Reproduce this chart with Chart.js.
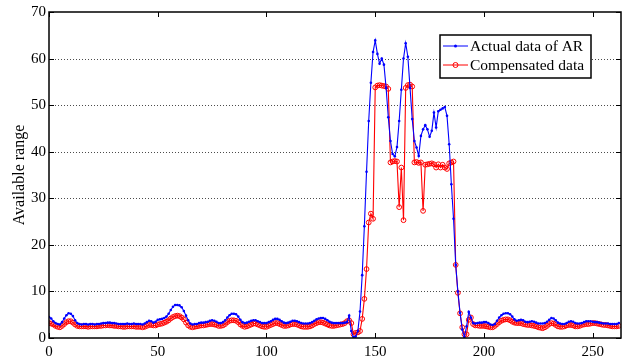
<!DOCTYPE html>
<html>
<head>
<meta charset="utf-8">
<script src="https://cdn.jsdelivr.net/npm/chart.js@4/dist/chart.umd.min.js"></script>
<style>
  html, body { margin: 0; padding: 0; background: #fff; }
  #wrap { width: 626px; height: 362px; }
</style>
</head>
<body>
<div id="wrap"><canvas id="chart"></canvas></div>
<script>
// one sample per x step, x = 0 .. 262
const actualAR = [
  4.5, 4.2, 3.6, 3.2, 3.0, 2.9, 3.4, 4.2, 4.9, 5.3,
  5.2, 4.7, 3.8, 3.2, 3.0, 2.9, 3.0, 3.0, 2.9, 3.0,
  3.0, 2.9, 3.0, 3.0, 3.1, 3.2, 3.2, 3.3, 3.3, 3.2,
  3.2, 3.1, 3.0, 3.0, 3.0, 3.0, 3.1, 3.0, 3.0, 3.1,
  3.0, 3.0, 3.0, 2.9, 3.1, 3.4, 3.7, 3.6, 3.3, 3.5,
  3.9, 4.0, 4.1, 4.3, 4.6, 5.2, 6.0, 6.7, 7.1, 7.1,
  7.0, 6.6, 5.8, 4.8, 3.8, 3.1, 2.9, 3.0, 3.0, 3.2,
  3.3, 3.3, 3.4, 3.5, 3.7, 3.8, 3.7, 3.5, 3.2, 3.2,
  3.4, 3.8, 4.4, 4.9, 5.2, 5.2, 5.1, 4.6, 3.9, 3.4,
  3.2, 3.3, 3.5, 3.7, 3.8, 3.8, 3.6, 3.4, 3.2, 3.2,
  3.2, 3.4, 3.6, 3.9, 4.1, 4.1, 3.9, 3.6, 3.3, 3.2,
  3.3, 3.5, 3.7, 3.7, 3.6, 3.4, 3.2, 3.1, 3.1, 3.1,
  3.2, 3.4, 3.7, 4.0, 4.2, 4.3, 4.3, 4.1, 3.8, 3.5,
  3.3, 3.2, 3.2, 3.2, 3.2, 3.2, 3.3, 3.4, 4.8, 1.5,
  0.2, 0.3, 1.5, 5.7, 13.5, 24.0, 35.7, 46.6, 54.8, 61.4,
  63.9, 61.0, 58.9, 60.0, 58.7, 53.7, 47.4, 42.3, 39.5, 39.0,
  41.0, 46.6, 53.3, 60.0, 63.3, 60.4, 53.7, 47.0, 42.3, 40.9,
  39.1, 43.4, 44.8, 45.7, 44.8, 43.2, 44.5, 48.4, 45.2, 48.7,
  49.0, 49.3, 49.6, 47.7, 41.6, 33.0, 25.6, 15.7, 10.0, 5.4,
  1.8, 0.2, 2.5, 5.6, 4.4, 3.2, 3.1, 3.2, 3.3, 3.3,
  3.4, 3.4, 3.2, 2.9, 2.8, 3.0, 3.7, 4.4, 4.9, 5.2,
  5.3, 5.3, 5.1, 4.6, 4.0, 3.7, 3.8, 3.9, 3.8, 3.5,
  3.4, 3.5, 3.6, 3.5, 3.3, 3.1, 3.1, 3.1, 3.2, 3.5,
  3.9, 4.3, 4.2, 3.8, 3.3, 3.1, 3.0, 3.0, 3.2, 3.5,
  3.6, 3.5, 3.2, 3.1, 3.1, 3.2, 3.4, 3.6, 3.6, 3.6,
  3.5, 3.4, 3.4, 3.3, 3.2, 3.1, 3.1, 3.1, 3.0, 3.0,
  3.0, 3.0, 3.2
];

const compensated = [
  3.2, 3.1, 2.9, 2.6, 2.4, 2.3, 2.6, 3.0, 3.4, 3.6,
  3.6, 3.3, 2.9, 2.6, 2.5, 2.5, 2.5, 2.5, 2.4, 2.5,
  2.5, 2.5, 2.5, 2.6, 2.6, 2.7, 2.7, 2.8, 2.7, 2.7,
  2.6, 2.6, 2.5, 2.5, 2.4, 2.4, 2.5, 2.5, 2.5, 2.5,
  2.4, 2.4, 2.4, 2.3, 2.4, 2.6, 2.8, 2.8, 2.7, 2.7,
  2.9, 3.0, 3.1, 3.3, 3.5, 3.8, 4.2, 4.5, 4.7, 4.8,
  4.7, 4.4, 4.0, 3.3, 2.7, 2.4, 2.3, 2.4, 2.5, 2.6,
  2.7, 2.7, 2.8, 2.9, 3.0, 3.0, 2.9, 2.8, 2.6, 2.6,
  2.7, 3.0, 3.4, 3.7, 3.8, 3.8, 3.7, 3.4, 2.9, 2.6,
  2.4, 2.5, 2.7, 2.9, 3.1, 3.1, 2.9, 2.7, 2.5, 2.4,
  2.4, 2.6, 2.8, 3.0, 3.2, 3.2, 3.0, 2.8, 2.6, 2.6,
  2.7, 2.9, 3.0, 3.0, 2.9, 2.7, 2.5, 2.4, 2.4, 2.4,
  2.5, 2.7, 3.0, 3.2, 3.4, 3.4, 3.3, 3.1, 2.9, 2.7,
  2.6, 2.6, 2.7, 2.8, 2.9, 3.0, 3.2, 3.6, 3.8, 3.2,
  0.8, 1.1, 1.2, 1.5, 4.1, 8.4, 14.8, 24.8, 26.7, 25.6,
  53.8, 54.2, 54.3, 54.2, 54.1, 54.0, 53.5, 37.7, 37.9, 38.0,
  37.9, 28.1, 36.6, 25.3, 53.7, 54.3, 54.4, 54.0, 37.7, 37.8,
  37.6, 37.7, 27.3, 37.2, 37.3, 37.4, 37.5, 37.3, 36.6, 37.3,
  36.6, 37.2, 36.6, 36.3, 37.5, 37.7, 37.9, 15.7, 9.7, 5.3,
  2.3, 0.8, 0.8, 3.9, 4.4, 3.0, 2.7, 2.7, 2.6, 2.6,
  2.6, 2.5, 2.4, 2.3, 2.3, 2.6, 3.0, 3.4, 3.7, 3.9,
  4.0, 4.0, 3.8, 3.5, 3.3, 3.2, 3.2, 3.2, 3.0, 2.9,
  2.8, 2.8, 2.7, 2.6, 2.5, 2.3, 2.2, 2.1, 2.3, 2.6,
  3.0, 3.2, 3.1, 2.8, 2.5, 2.4, 2.4, 2.5, 2.7, 2.8,
  2.8, 2.7, 2.5, 2.5, 2.6, 2.8, 2.9, 3.0, 3.0, 3.1,
  3.2, 3.2, 3.1, 3.0, 2.9, 2.8, 2.8, 2.7, 2.6, 2.5,
  2.5, 2.5, 2.6
];

const xValues = actualAR.map((v, i) => i);
const xTicks = [0, 50, 100, 150, 200, 250];
const yTicks = [0, 10, 20, 30, 40, 50, 60, 70];
const seriesNames = ["Actual data of AR", "Compensated data"];

const serif = "'Liberation Serif', 'Times New Roman', serif";

// dotted horizontal grid under the data
const gridPlugin = {
    id: "dotgrid",
    beforeDatasetsDraw(chart) {
        const { ctx, chartArea: a, scales } = chart;
        ctx.save();
        ctx.strokeStyle = "rgba(0,0,0,0.7)";
        ctx.lineWidth = 1;
        ctx.setLineDash([1, 2]);
        yTicks.slice(1, -1).forEach(t => {
            const py = Math.round(scales.y.getPixelForValue(t)) + 0.5;
            ctx.beginPath();
            ctx.moveTo(a.left, py); ctx.lineTo(a.right, py);
            ctx.stroke();
        });
        ctx.restore();
    }
};

// frame, inward ticks and the boxed legend inside the plot
const framePlugin = {
    id: "frame",
    afterDatasetsDraw(chart) {
        const { ctx, chartArea: a, scales } = chart;
        ctx.save();
        ctx.strokeStyle = "#000";
        ctx.lineWidth = 1;
        xTicks.forEach(t => {
            const px = Math.round(scales.x.getPixelForValue(t)) + 0.5;
            ctx.beginPath();
            ctx.moveTo(px, a.bottom); ctx.lineTo(px, a.bottom - 5);
            ctx.moveTo(px, a.top); ctx.lineTo(px, a.top + 5);
            ctx.stroke();
        });
        yTicks.forEach(t => {
            const py = Math.round(scales.y.getPixelForValue(t)) + 0.5;
            ctx.beginPath();
            ctx.moveTo(a.left, py); ctx.lineTo(a.left + 5, py);
            ctx.moveTo(a.right, py); ctx.lineTo(a.right - 5, py);
            ctx.stroke();
        });
        ctx.lineWidth = 1.5;
        ctx.strokeRect(a.left, a.top, a.right - a.left, a.bottom - a.top);

        // legend
        const lx = 440, ly = 35, lw = 151, lh = 43;
        ctx.fillStyle = "#fff";
        ctx.fillRect(lx, ly, lw, lh);
        ctx.lineWidth = 1.5;
        ctx.strokeRect(lx, ly, lw, lh);
        ctx.font = "15.5px " + serif;
        ctx.textBaseline = "middle";
        chart.data.datasets.forEach((ds, i) => {
            const yy = ly + 11 + i * 19;
            ctx.strokeStyle = ds.borderColor;
            ctx.lineWidth = 1;
            ctx.beginPath();
            ctx.moveTo(lx + 3, yy); ctx.lineTo(lx + 28, yy);
            ctx.stroke();
            ctx.beginPath();
            if (i === 0) {
                ctx.fillStyle = ds.borderColor;
                ctx.arc(lx + 15.5, yy, 1.5, 0, Math.PI * 2);
                ctx.fill();
            } else {
                ctx.arc(lx + 15.5, yy, 2.5, 0, Math.PI * 2);
                ctx.stroke();
            }
            ctx.fillStyle = "#000";
            ctx.fillText(ds.label, lx + 30, yy + 1);
        });
        ctx.restore();
    }
};

new Chart(document.getElementById("chart"), {
    type: "line",
    data: {
        datasets: [
            {
                label: seriesNames[0],
                data: xValues.map((x, i) => ({ x: x, y: actualAR[i] })),
                borderColor: "#0000ff",
                backgroundColor: "#0000ff",
                borderWidth: 1.1,
                pointRadius: 1.3,
                pointBorderWidth: 0,
                pointBackgroundColor: "#0000ff",
                tension: 0
            },
            {
                label: seriesNames[1],
                data: xValues.map((x, i) => ({ x: x, y: compensated[i] })),
                borderColor: "#ff0000",
                backgroundColor: "rgba(0,0,0,0)",
                borderWidth: 1.1,
                pointRadius: 2.4,
                pointBorderWidth: 1,
                pointBorderColor: "#ff0000",
                pointBackgroundColor: "rgba(0,0,0,0)",
                tension: 0
            }
        ]
    },
    options: {
        responsive: true,
        maintainAspectRatio: false,
        animation: false,
        devicePixelRatio: 1,
        layout: { padding: { top: 10, right: 2, left: 0, bottom: 0 } },
        plugins: {
            legend: { display: false },
            tooltip: { enabled: false }
        },
        scales: {
            x: {
                type: "linear",
                min: 0,
                max: 263,
                afterBuildTicks: s => { s.ticks = xTicks.map(v => ({ value: v })); },
                afterFit: s => { s.height = 24; },
                grid: { display: false, drawTicks: false },
                border: { display: false },
                ticks: {
                    color: "#000",
                    padding: 5,
                    maxRotation: 0,
                    font: { family: serif, size: 15 }
                }
            },
            y: {
                min: 0,
                max: 70,
                afterBuildTicks: s => { s.ticks = yTicks.map(v => ({ value: v })); },
                afterFit: s => { s.width = 49; },
                grid: { display: false, drawTicks: false },
                border: { display: false },
                ticks: {
                    color: "#000",
                    padding: 3,
                    font: { family: serif, size: 15 }
                },
                title: {
                    display: true,
                    text: "Available range",
                    color: "#000",
                    font: { family: serif, size: 16 },
                    padding: { top: 10, bottom: 0 }
                }
            }
        }
    },
    plugins: [gridPlugin, framePlugin]
});
</script>
</body>
</html>
